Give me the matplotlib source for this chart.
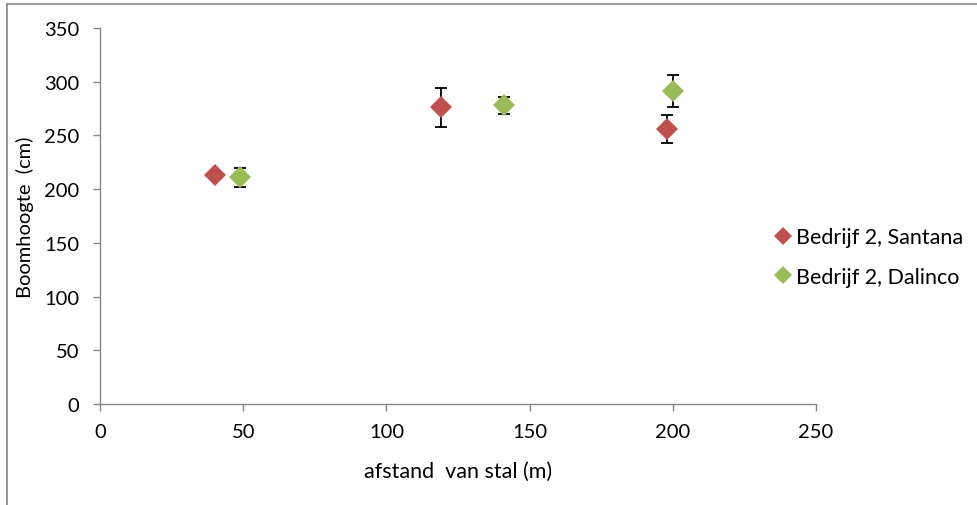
import matplotlib.pyplot as plt
from matplotlib.lines import Line2D

plt.rcParams['font.family'] = ['Lato', 'DejaVu Sans']

# Bedrijf 2, Santana
santana_x = [40, 119, 198]
santana_y = [213, 276, 256]
santana_err = [0, 18, 13]

# Bedrijf 2, Dalinco
dalinco_x = [49, 141, 200]
dalinco_y = [211, 278, 291]
dalinco_err = [9, 8, 15]

red = '#C0504D'
green = '#9BBB59'
grey = '#868686'

fig = plt.figure(figsize=(9.77, 5.06), dpi=100)
ax = fig.add_axes([0.1024, 0.1996, 0.7328, 0.7431])

ax.errorbar(santana_x, santana_y, yerr=santana_err, fmt='none', ecolor='black',
            elinewidth=1.3, capsize=4.5, capthick=1.3, zorder=2)
ax.errorbar(dalinco_x, dalinco_y, yerr=dalinco_err, fmt='none', ecolor='black',
            elinewidth=1.3, capsize=4.5, capthick=1.3, zorder=2)
ax.plot(santana_x, santana_y, 'D', color=red, markersize=11.5, markeredgewidth=0, zorder=3)
ax.plot(dalinco_x, dalinco_y, 'D', color=green, markersize=11.5, markeredgewidth=0, zorder=3)

ax.set_xlim(0, 250)
ax.set_ylim(0, 350)
ax.set_xticks(range(0, 251, 50))
ax.set_yticks(range(0, 351, 50))

for side in ['top', 'right']:
    ax.spines[side].set_visible(False)
for side in ['left', 'bottom']:
    ax.spines[side].set_color(grey)
    ax.spines[side].set_linewidth(1.0)
ax.tick_params(direction='out', length=5, width=1.0, color=grey, labelsize=14.5)
ax.tick_params(axis='x', pad=9)
ax.tick_params(axis='y', pad=10)

ax.set_xlabel('afstand  van stal (m)', fontsize=15.5, labelpad=15)
ax.set_ylabel('Boomhoogte  (cm)', fontsize=14.5, labelpad=7)

handles = [
    Line2D([], [], marker='D', color=red, linestyle='none', markersize=9, markeredgewidth=0),
    Line2D([], [], marker='D', color=green, linestyle='none', markersize=9, markeredgewidth=0),
]
fig.legend(handles, ['Bedrijf 2, Santana', 'Bedrijf 2, Dalinco'],
           loc='center left', bbox_to_anchor=(0.775, 0.49), frameon=False,
           fontsize=15.5, handlelength=0.6, handletextpad=0.3, labelspacing=0.9)

# outer chart border (top and left edges visible)
fig.add_artist(Line2D([0.0072, 0.0072], [0, 0.99], transform=fig.transFigure,
                      color=grey, linewidth=1.2))
fig.add_artist(Line2D([0.0072, 1.0], [0.99, 0.99], transform=fig.transFigure,
                      color=grey, linewidth=1.2))

fig.savefig('out.png', dpi=100)
